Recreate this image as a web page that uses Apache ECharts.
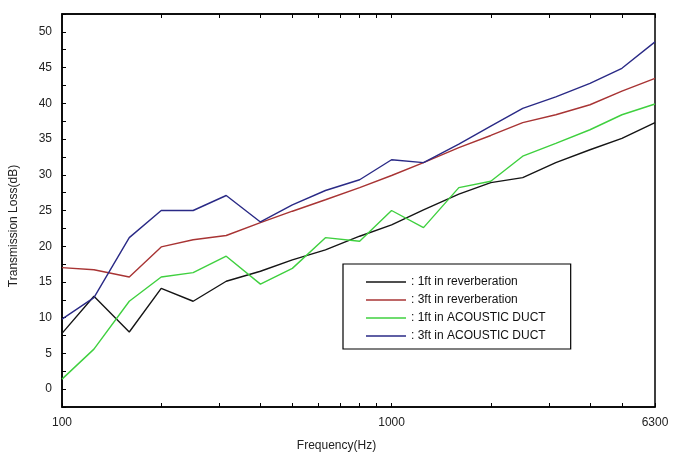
<!DOCTYPE html>
<html>
<head>
<meta charset="utf-8">
<script src="https://cdn.jsdelivr.net/npm/echarts@6/dist/echarts.min.js"></script>
<style>html,body{margin:0;padding:0;background:#fff;}#c{width:673px;height:454px;}</style>
</head>
<body>
<div id="c"></div>
<script>
const frequencies = [100,125,160,200,250,315,400,500,630,800,1000,1250,1600,2000,2500,3150,4000,5000,6300];
const rev1ft  = [7.8,13.0,8.0,14.1,12.3,15.1,16.5,18.1,19.5,21.4,23.0,25.1,27.3,28.9,29.6,31.7,33.5,35.1,37.3];
const rev3ft  = [17.0,16.7,15.7,19.9,20.9,21.5,23.3,24.9,26.5,28.2,29.9,31.7,33.8,35.5,37.3,38.4,39.8,41.7,43.5];
const duct1ft = [1.4,5.6,12.3,15.7,16.3,18.6,14.7,16.9,21.2,20.7,25.0,22.6,28.2,29.1,32.6,34.4,36.3,38.4,39.9];
const duct3ft = [9.8,12.8,21.2,25.0,25.0,27.1,23.4,25.8,27.8,29.3,32.1,31.7,34.3,36.8,39.3,40.9,42.8,44.9,48.6];
const seriesNames = ['1ft in reverberation','3ft in reverberation','1ft in ACOUSTIC DUCT','3ft in ACOUSTIC DUCT'];
const xTickValues = [100,200,300,400,500,600,700,800,900,1000,2000,3000,4000,5000,6300];
const xLabelValues = [100,1000,6300];
const yLabelValues = [0,5,10,15,20,25,30,35,40,45,50];

const colors = ['#151515','#a83434','#3fd03f','#2a2a86'];
const allData = [rev1ft, rev3ft, duct1ft, duct3ft];

const chart = echarts.init(document.getElementById('c'), null, {renderer:'canvas'});
const FONT = 'Liberation Sans, Arial, sans-serif';
const tickStyle = {show:true, inside:true, length:4, lineStyle:{color:'#000', width:1}};
chart.setOption({
  animation:false,
  backgroundColor:'#fff',
  grid:{left:62, top:14, right:18, bottom:47, show:true, borderColor:'#000', borderWidth:1.5, backgroundColor:'#fff'},
  xAxis:[{
    type:'log', logBase:10, min:100, max:6300, position:'bottom',
    axisLine:{show:true, onZero:false, lineStyle:{color:'#000', width:1.5}},
    axisTick:Object.assign({customValues:xTickValues}, tickStyle),
    axisLabel:{customValues:xLabelValues, margin:10, color:'#222', fontSize:12, fontFamily:FONT, formatter: v => String(Math.round(v))},
    splitLine:{show:false}, minorTick:{show:false}
  },{
    type:'log', logBase:10, min:100, max:6300, position:'top',
    axisLine:{show:true, onZero:false, lineStyle:{color:'#000', width:1.5}},
    axisTick:Object.assign({customValues:xTickValues}, tickStyle),
    axisLabel:{show:false}, splitLine:{show:false}
  }],
  yAxis:[{
    type:'value', min:-2.5, max:52.5, interval:2.5,
    axisLine:{show:true, onZero:false, lineStyle:{color:'#000', width:1.5}},
    axisTick:tickStyle,
    axisLabel:{customValues:yLabelValues, margin:10, color:'#222', fontSize:12, fontFamily:FONT},
    splitLine:{show:false}
  }],
  legend:{
    orient:'vertical', left:343, top:264,
    data:seriesNames,
    icon:'rect', itemWidth:40, itemHeight:1.5, itemGap:4,
    padding:[11,25,6,23],
    borderColor:'#000', borderWidth:1.2, backgroundColor:'#fff',
    formatter: n => ': ' + n,
    textStyle:{fontSize:12, fontFamily:FONT, color:'#111', lineHeight:14}
  },
  graphic:[
    {type:'text', left:'center', top:440, style:{text:'Frequency(Hz)', fontSize:12, fontFamily:FONT, fill:'#222'}},
    {type:'text', x:14, y:226, rotation:Math.PI/2, style:{text:'Transmission Loss(dB)', fontSize:12, fontFamily:FONT, fill:'#222', align:'center', verticalAlign:'middle'}}
  ],
  series: seriesNames.map((n,i)=>({
    name:n, type:'line', xAxisIndex:0, yAxisIndex:0,
    data: frequencies.map((f,j)=>[f, allData[i][j]]),
    showSymbol:false, symbol:'none',
    lineStyle:{color:colors[i], width:1.4},
    itemStyle:{color:colors[i]},
    z: [3,2,4,5][i]
  }))
});
</script>
</body>
</html>
